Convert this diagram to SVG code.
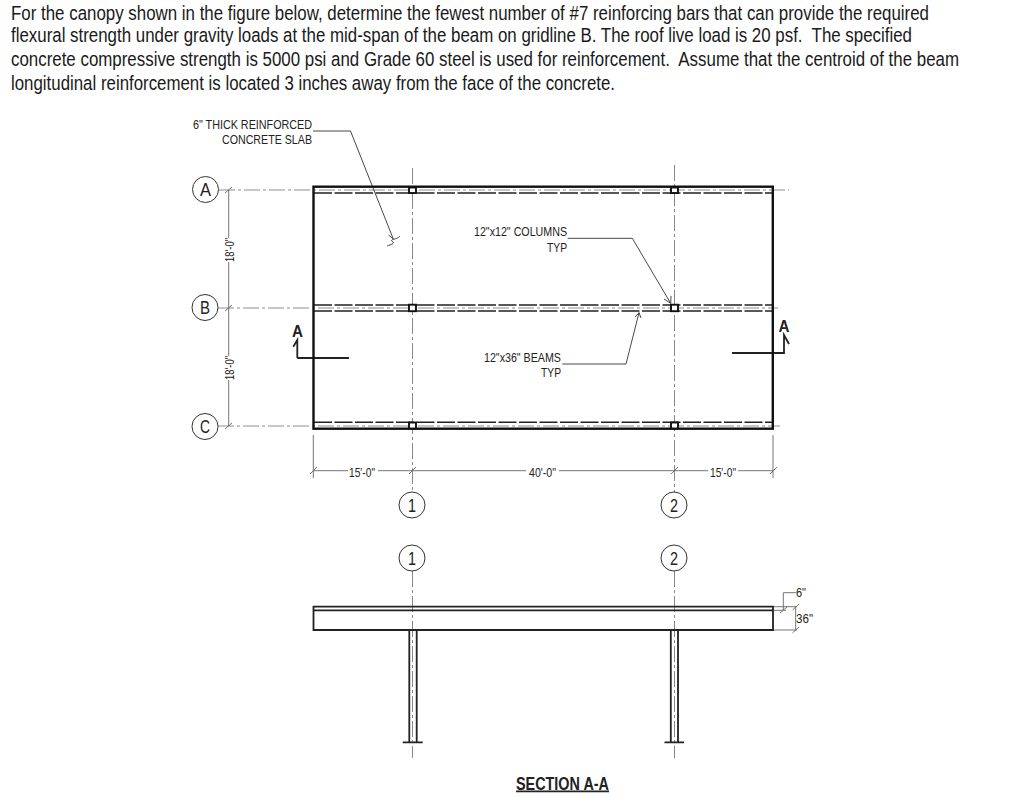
<svg xmlns="http://www.w3.org/2000/svg" width="1024" height="797" viewBox="0 0 1024 797">
<style>
text{font-family:"Liberation Sans",Arial,sans-serif;fill:#222;white-space:pre}
.q{font-size:18px;fill:#1a1a1a}
.l{font-size:13.500px}
.e{text-anchor:end}
.b{font-weight:bold}
.n{font-size:18.500px;text-anchor:middle}
.grid{stroke:#b4b4b4;stroke-width:1.400;stroke-dasharray:16 3 3 3;fill:none}
.gridv{stroke:#888;stroke-width:1;stroke-dasharray:16 3 3 3;fill:none}
.dash{stroke:#222;stroke-width:1.400;stroke-dasharray:18 2.500;fill:none}
.thick{stroke:#111;stroke-width:2.400;fill:none}
.med{stroke:#222;stroke-width:1.800;fill:none}
.thin{stroke:#666;stroke-width:.9;fill:none}
.lead{stroke:#333;stroke-width:.9;fill:none}
.bub{fill:#fff;stroke:#333;stroke-width:1}
.col{fill:#fff;stroke:#111;stroke-width:1.900}
</style>
<g id="question">
<text class="q" transform="translate(11 19.700) scale(1 1.083)" textLength="918" lengthAdjust="spacingAndGlyphs">For the canopy shown in the figure below, determine the fewest number of #7 reinforcing bars that can provide the required</text>
<text class="q" transform="translate(11 41.700) scale(1 1.083)" textLength="901" lengthAdjust="spacingAndGlyphs">flexural strength under gravity loads at the mid-span of the beam on gridline B. The roof live load is 20 psf.  The specified</text>
<text class="q" transform="translate(11 65.700) scale(1 1.083)" textLength="948" lengthAdjust="spacingAndGlyphs">concrete compressive strength is 5000 psi and Grade 60 steel is used for reinforcement.  Assume that the centroid of the beam</text>
<text class="q" transform="translate(11 89.700) scale(1 1.083)" textLength="604" lengthAdjust="spacingAndGlyphs">longitudinal reinforcement is located 3 inches away from the face of the concrete.</text>
</g>
<g id="connectors">
<path class="grid" d="M219 190H789M218 308H778M218 426H780"/>
<path class="gridv" d="M412.500 168V492M674.500 165V492M412.500 571V758M674.500 571V758"/>
<path class="dash" d="M314 193H772M314 305H772M314 311H772M314 422.300H772"/>
<path class="thin" d="M228.700 190V238M228.700 262V356M228.700 380V426M225 193L232 187M225 311L232 305M225 429L232 423"/>
<path class="thin" d="M313.300 435V478M773 435V478M313.300 470.700H348M378 470.700H526M559 470.700H708M738 470.700H773M310 474L317 467M409 474L416 467M671 474L678 467M770 474L777 467"/>
<path class="lead" d="M313 131H350.500L393.300 239M400 236C397 240 388 239 393 242C395 244 389 245 387 246M388.500 235L393.300 239"/>
<path class="lead" d="M567.700 238.300H632.300L670.700 303.300M664 299L670.700 303.300L671 296"/>
<path class="lead" d="M562.300 364H626L639 312.700M635 317L639 312.700L641 318"/>
<path class="med" d="M297.300 358V340L293.300 346.700M297.300 358H349"/>
<path class="med" d="M732 353H784V335L789 344"/>
<path class="thin" d="M773 606.700H797M773 630H797M795.700 606.700V630M792.500 633L799 627M792.500 610L799 604"/>
<path class="thin" d="M796 592.700H783.300V610M773 610.300H786M780 613L787 607"/>
<path class="med" d="M516 791.300H609"/>
</g>
<g id="canopy-plan">
<rect class="thick" x="313.500" y="186.700" width="459.300" height="242"/>
</g>
<g id="columns-plan">
<rect id="col-a1" class="col" x="409" y="187.500" width="7" height="5.500"/>
<rect id="col-a2" class="col" x="671" y="187.500" width="7" height="5.500"/>
<rect id="col-b1" class="col" x="409" y="304.700" width="7" height="6.500"/>
<rect id="col-b2" class="col" x="671" y="304.700" width="7" height="6.500"/>
<rect id="col-c1" class="col" x="409" y="422.500" width="7" height="6"/>
<rect id="col-c2" class="col" x="671" y="422.500" width="7" height="6"/>
</g>
<g id="section-slab">
<path class="med" d="M313.500 606.700H773V630H313.500ZM313.500 610.300H773"/>
</g>
<g id="section-column-1">
<path class="med" d="M409.300 630V742M416.700 630V742M402.700 742.300H422.700"/>
</g>
<g id="section-column-2">
<path class="med" d="M670.800 630V742M678 630V742M664.500 742.300H684"/>
</g>
<g id="bubble-a"><circle class="bub" cx="205.500" cy="189.500" r="13"/><text class="n" x="205.500" y="196" textLength="11" lengthAdjust="spacingAndGlyphs">A</text></g>
<g id="bubble-b"><circle class="bub" cx="205" cy="307.500" r="13"/><text class="n" x="205" y="314" textLength="10" lengthAdjust="spacingAndGlyphs">B</text></g>
<g id="bubble-c"><circle class="bub" cx="205" cy="426.500" r="13"/><text class="n" x="205" y="433" textLength="10" lengthAdjust="spacingAndGlyphs">C</text></g>
<g id="bubble-1a"><circle class="bub" cx="412" cy="505" r="13"/><text class="n" x="412" y="511.500" textLength="8" lengthAdjust="spacingAndGlyphs">1</text></g>
<g id="bubble-2a"><circle class="bub" cx="674" cy="505" r="13"/><text class="n" x="674" y="511.500" textLength="8" lengthAdjust="spacingAndGlyphs">2</text></g>
<g id="bubble-1b"><circle class="bub" cx="412" cy="558" r="13"/><text class="n" x="412" y="564.500" textLength="8" lengthAdjust="spacingAndGlyphs">1</text></g>
<g id="bubble-2b"><circle class="bub" cx="674" cy="558" r="13"/><text class="n" x="674" y="564.500" textLength="8" lengthAdjust="spacingAndGlyphs">2</text></g>
<g id="labels">
<text class="l e" x="312" y="129" textLength="119" lengthAdjust="spacingAndGlyphs">6" THICK REINFORCED</text>
<text class="l e" x="312" y="144" textLength="90" lengthAdjust="spacingAndGlyphs">CONCRETE SLAB</text>
<text class="l e" x="567" y="236" textLength="93" lengthAdjust="spacingAndGlyphs">12"x12" COLUMNS</text>
<text class="l e" x="567" y="252" textLength="20" lengthAdjust="spacingAndGlyphs">TYP</text>
<text class="l e" x="561" y="362" textLength="77" lengthAdjust="spacingAndGlyphs">12"x36" BEAMS</text>
<text class="l e" x="561" y="377" textLength="20" lengthAdjust="spacingAndGlyphs">TYP</text>
<text class="l" x="349" y="477" textLength="26" lengthAdjust="spacingAndGlyphs">15'-0"</text>
<text class="l" x="529" y="477" textLength="27" lengthAdjust="spacingAndGlyphs">40'-0"</text>
<text class="l" x="710" y="477" textLength="26" lengthAdjust="spacingAndGlyphs">15'-0"</text>
<text class="l" transform="translate(234 262) rotate(-90)" textLength="24" lengthAdjust="spacingAndGlyphs">18'-0"</text>
<text class="l" transform="translate(234 380) rotate(-90)" textLength="24" lengthAdjust="spacingAndGlyphs">18'-0"</text>
<text class="l" x="796" y="597" textLength="10" lengthAdjust="spacingAndGlyphs">6"</text>
<text class="l" x="796" y="623" textLength="17" lengthAdjust="spacingAndGlyphs">36"</text>
<text class="b" x="292" y="337" font-size="16" textLength="11" lengthAdjust="spacingAndGlyphs">A</text>
<text class="b" x="778.500" y="332" font-size="16" textLength="11" lengthAdjust="spacingAndGlyphs">A</text>
<text class="b" x="516" y="790" font-size="17.500" textLength="93" lengthAdjust="spacingAndGlyphs">SECTION A-A</text>
</g>
</svg>
